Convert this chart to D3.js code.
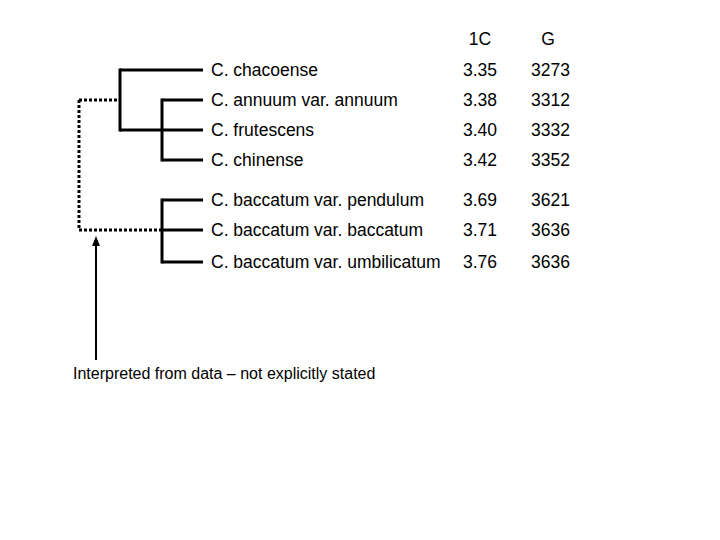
<!DOCTYPE html><html><head><script src="https://cdn.jsdelivr.net/npm/d3@7"></script>
<style>body{margin:0;background:#fff}</style></head><body><svg id="c" width="720" height="540"></svg>
<script>
const species=["C. chacoense","C. annuum var. annuum","C. frutescens","C. chinense","C. baccatum var. pendulum","C. baccatum var. baccatum","C. baccatum var. umbilicatum"];
const values1C=["3.35","3.38","3.40","3.42","3.69","3.71","3.76"];
const valuesG=["3273","3312","3332","3352","3621","3636","3636"];
const headers=["1C","G"];
const rowY=[70,100,130,160,200,230,262];
const svg=d3.select("#c");
const y=d3.scaleOrdinal().domain(d3.range(7)).range(rowY);
const font="Liberation Sans, Arial, sans-serif";
const g=svg.append("g").attr("stroke","#000").attr("stroke-width",3).attr("fill","none");
const seg=(x1,y1,x2,y2,dash)=>g.append("line").attr("x1",x1).attr("y1",y1).attr("x2",x2).attr("y2",y2).attr("stroke-dasharray",dash?"3,2":null);
const xe=203;
seg(120,y(0)-1.5,120,y(2)+1.5); seg(120,y(0),xe,y(0)); seg(120,y(2),xe,y(2));
seg(162,y(1)-1.5,162,y(3)+1.5); seg(162,y(1),xe,y(1)); seg(162,y(3),xe,y(3));
seg(162,y(4)-1.5,162,y(6)+1.5); [4,5,6].forEach(i=>seg(162,y(i),xe,y(i)));
seg(79,y(1),120,y(1),true); seg(79,y(1),79,y(5),true); seg(79,y(5),162,y(5),true);
svg.append("line").attr("x1",96).attr("y1",360).attr("x2",96).attr("y2",244).attr("stroke","#000").attr("stroke-width",2);
svg.append("path").attr("d","M92,246 L96,236 L100,246 Z").attr("fill","#000");
const t=svg.append("g").attr("font-family",font).attr("font-size",17.5).attr("fill","#000");
species.forEach((s,i)=>{
 t.append("text").attr("x",211).attr("y",y(i)+6).text(s);
 t.append("text").attr("x",463).attr("y",y(i)+6).text(values1C[i]);
 t.append("text").attr("x",531).attr("y",y(i)+6).text(valuesG[i]);
});
t.append("text").attr("x",480).attr("y",45).attr("text-anchor","middle").text(headers[0]);
t.append("text").attr("x",548).attr("y",45).attr("text-anchor","middle").text(headers[1]);
t.append("text").attr("x",73).attr("y",379).attr("font-size",16).text("Interpreted from data – not explicitly stated");
</script></body></html>
